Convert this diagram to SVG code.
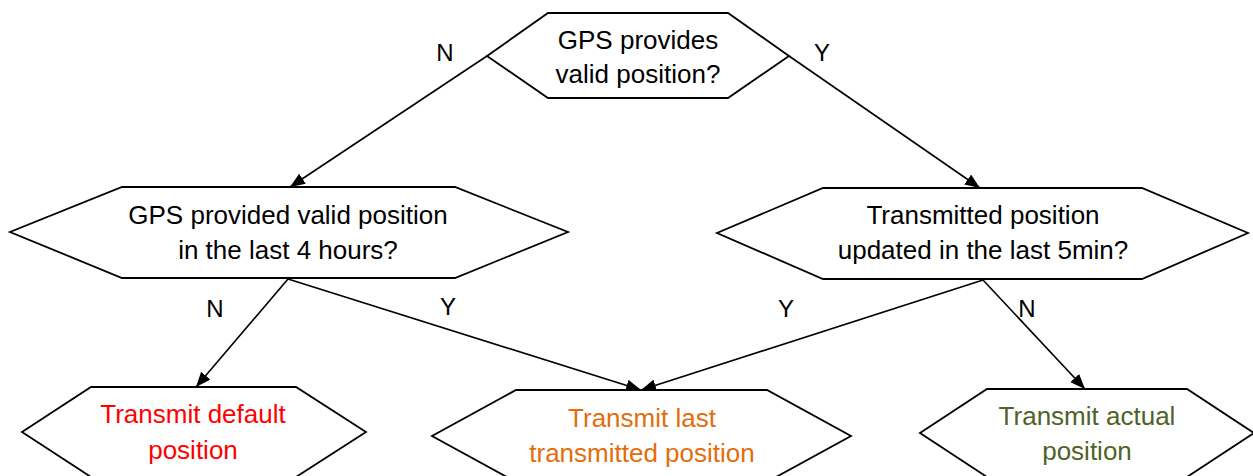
<svg xmlns="http://www.w3.org/2000/svg" width="1253" height="476" viewBox="0 0 1253 476">
<style>
.hex{fill:#fff;stroke:#000;stroke-width:1.8;stroke-linejoin:miter}
.t{font-family:"Liberation Sans",Arial,sans-serif;font-size:26px;text-anchor:middle;fill:#000}
.lbl{font-family:"Liberation Sans",Arial,sans-serif;font-size:24px;text-anchor:middle;fill:#000}
.red{fill:#FF0000}.org{fill:#E46C0A}.grn{fill:#4F6228}
.c{fill:none;stroke:#000;stroke-width:1.6}
</style>
<defs>
<marker id="arr" markerUnits="userSpaceOnUse" markerWidth="16" markerHeight="12" refX="15" refY="6" orient="auto">
<path d="M0,0 L15,6 L0,12 z" fill="#000"/>
</marker>
</defs>
<rect width="1253" height="476" fill="#fff"/>
<g id="connectors">
<line class="c" x1="487" y1="56" x2="290" y2="187" marker-end="url(#arr)"/>
<line class="c" x1="789" y1="56" x2="980" y2="188" marker-end="url(#arr)"/>
<line class="c" x1="288" y1="279" x2="196" y2="387" marker-end="url(#arr)"/>
<line class="c" x1="288" y1="279" x2="641" y2="390" marker-end="url(#arr)"/>
<line class="c" x1="983" y1="280" x2="641" y2="390" marker-end="url(#arr)"/>
<line class="c" x1="983" y1="280" x2="1085" y2="389" marker-end="url(#arr)"/>
<text class="lbl" x="445" y="61">N</text>
<text class="lbl" x="822" y="61">Y</text>
<text class="lbl" x="215" y="317">N</text>
<text class="lbl" x="448" y="315">Y</text>
<text class="lbl" x="786" y="317">Y</text>
<text class="lbl" x="1027" y="317">N</text>
</g>
<g id="n1">
<polygon class="hex" points="548,13 728,13 789,56 728,98 548,98 487,56"/>
<text class="t" x="638" y="49">GPS provides</text>
<text class="t" x="638" y="83">valid position?</text>
</g>
<g id="n2">
<polygon class="hex" points="122,187 455,187 568,232 455,278 122,278 10,232"/>
<text class="t" x="288" y="224">GPS provided valid position</text>
<text class="t" x="288" y="259">in the last 4 hours?</text>
</g>
<g id="n3">
<polygon class="hex" points="823,188 1142,188 1248,233 1142,279 823,279 717,233"/>
<text class="t" x="983" y="224">Transmitted position</text>
<text class="t" x="983" y="259">updated in the last 5min?</text>
</g>
<g id="n4">
<polygon class="hex" points="91,387 296,387 366,432 296,477 91,477 22,432"/>
<text class="t red" x="193" y="423">Transmit default</text>
<text class="t red" x="193" y="459">position</text>
</g>
<g id="n5">
<polygon class="hex" points="516,390 767,390 851,436 767,482 516,482 432,436"/>
<text class="t org" x="642" y="427">Transmit last</text>
<text class="t org" x="642" y="462">transmitted position</text>
</g>
<g id="n6">
<polygon class="hex" points="987,389 1187,389 1254,433 1187,477 987,477 920,433"/>
<text class="t grn" x="1087" y="425">Transmit actual</text>
<text class="t grn" x="1087" y="460">position</text>
</g>
</svg>
